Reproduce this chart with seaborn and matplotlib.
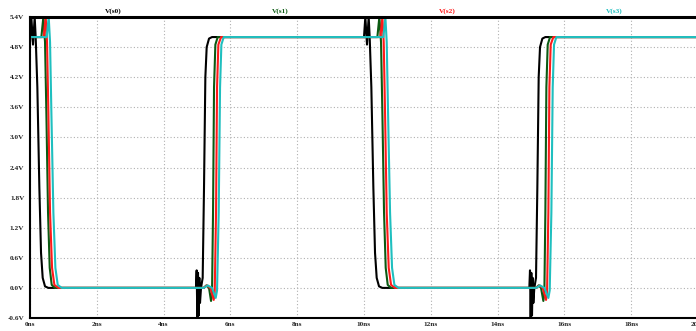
import numpy as np
import pandas as pd
import seaborn as sns
import matplotlib.pyplot as plt

# waveform samples (time in ns, voltage in V)
t_s0 = [0.00, 0.04, 0.09, 0.14, 0.17, 0.22, 0.28, 0.33, 0.38, 0.45, 0.55,
        4.97, 4.99, 5.01, 5.03, 5.05, 5.07, 5.09, 5.12, 5.17, 5.21, 5.25, 5.29, 5.36, 5.45,
        10.00, 10.04, 10.09, 10.14, 10.17, 10.22, 10.28, 10.33, 10.38, 10.45, 10.55,
        14.95, 14.97, 14.99, 15.01, 15.03, 15.05, 15.07, 15.10, 15.15, 15.19, 15.23, 15.27, 15.34, 15.43, 20.00]
v_s0 = [4.9, 5.4, 4.85, 5.4, 5.0, 4.0, 2.0, 0.7, 0.2, 0.03, 0.0,
        0.0, 0.35, -0.6, 0.3, -0.55, 0.2, -0.3, 0.0, 0.2, 2.0, 4.2, 4.8, 4.97, 5.0,
        5.0, 5.4, 4.85, 5.4, 5.0, 4.0, 2.0, 0.7, 0.2, 0.03, 0.0,
        0.0, 0.35, -0.6, 0.3, -0.55, 0.2, -0.3, 0.0, 0.2, 2.0, 4.2, 4.8, 4.97, 5.0, 5.0]

t_s1 = [0.00, 0.34, 0.40, 0.45, 0.49, 0.54, 0.59, 0.65, 0.75,
        5.20, 5.28, 5.36, 5.42, 5.45, 5.48, 5.51, 5.55, 5.62,
        10.00, 10.40, 10.46, 10.51, 10.55, 10.60, 10.65, 10.71, 10.81,
        15.15, 15.23, 15.30, 15.37, 15.40, 15.43, 15.46, 15.50, 15.57, 20.00]
v_s1 = [5.0, 5.0, 5.4, 4.9, 3.5, 1.5, 0.4, 0.06, 0.0,
        0.0, 0.05, 0.0, -0.26, -0.1, 1.5, 4.0, 4.85, 5.0,
        5.0, 5.0, 5.4, 4.9, 3.5, 1.5, 0.4, 0.06, 0.0,
        0.0, 0.05, 0.0, -0.26, -0.1, 1.5, 4.0, 4.85, 5.0, 5.0]

t_s2 = [0.00, 0.41, 0.47, 0.51, 0.55, 0.60, 0.66, 0.73, 0.85,
        5.20, 5.30, 5.40, 5.50, 5.53, 5.57, 5.60, 5.64, 5.72,
        10.00, 10.49, 10.55, 10.59, 10.63, 10.68, 10.74, 10.81, 10.93,
        15.15, 15.25, 15.35, 15.45, 15.48, 15.52, 15.55, 15.59, 15.67, 20.00]
v_s2 = [5.0, 5.0, 5.4, 4.9, 3.5, 1.5, 0.4, 0.06, 0.0,
        0.0, 0.05, 0.0, -0.24, -0.1, 1.5, 4.0, 4.85, 5.0,
        5.0, 5.0, 5.4, 4.9, 3.5, 1.5, 0.4, 0.06, 0.0,
        0.0, 0.05, 0.0, -0.24, -0.1, 1.5, 4.0, 4.85, 5.0, 5.0]

t_s3 = [0.00, 0.50, 0.56, 0.60, 0.64, 0.70, 0.76, 0.83, 0.95,
        5.20, 5.32, 5.45, 5.56, 5.60, 5.65, 5.69, 5.73, 5.80,
        10.00, 10.58, 10.64, 10.68, 10.72, 10.78, 10.84, 10.91, 11.03,
        15.15, 15.27, 15.40, 15.52, 15.56, 15.61, 15.65, 15.69, 15.76, 20.00]
v_s3 = [5.0, 5.0, 5.4, 4.9, 3.5, 1.5, 0.4, 0.06, 0.0,
        0.0, 0.05, 0.0, -0.2, -0.05, 1.5, 4.0, 4.85, 5.0,
        5.0, 5.0, 5.4, 4.9, 3.5, 1.5, 0.4, 0.06, 0.0,
        0.0, 0.05, 0.0, -0.2, -0.05, 1.5, 4.0, 4.85, 5.0, 5.0]

names = ["V(s0)", "V(s1)", "V(s2)", "V(s3)"]
colors = ["#000000", "#0b5a12", "#ff1a1a", "#1fbfbf"]
x_ticks = [0, 2, 4, 6, 8, 10, 12, 14, 16, 18, 20]
y_ticks = [-0.6, 0.0, 0.6, 1.2, 1.8, 2.4, 3.0, 3.6, 4.2, 4.8, 5.4]

frames = []
for name, t, v in zip(names, [t_s0, t_s1, t_s2, t_s3], [v_s0, v_s1, v_s2, v_s3]):
    frames.append(pd.DataFrame({"t": t, "V": v, "signal": name}))
df = pd.concat(frames, ignore_index=True)

sns.set_style("white")
plt.rcParams["font.family"] = ["Liberation Serif", "DejaVu Serif"]

fig = plt.figure(figsize=(6.96, 3.31), dpi=100)
ax = fig.add_axes([30 / 696, 13 / 331, 668 / 696, 301 / 331])

sns.lineplot(data=df, x="t", y="V", hue="signal", palette=colors, hue_order=names,
             estimator=None, sort=False, linewidth=1.5, legend=False, ax=ax)

ax.set_xlim(0, 20)
ax.set_ylim(-0.6, 5.4)
ax.set_xticks(x_ticks)
ax.set_yticks(y_ticks)
ax.set_xticklabels([f"{x}ns" for x in x_ticks], fontsize=5.2, fontweight="bold")
ax.set_yticklabels([f"{y:.1f}V" for y in y_ticks], fontsize=5.2, fontweight="bold")
ax.set_xlabel("")
ax.set_ylabel("")
ax.grid(True, color="#b0b0b0", linestyle=(0, (1, 2)), linewidth=0.8)
ax.tick_params(axis="x", direction="out", length=2.5, width=1.2, color="black", pad=0.5)
ax.tick_params(axis="y", direction="out", length=3, width=1.2, color="black", pad=1)

for side in ["left", "bottom"]:
    ax.spines[side].set_color("black")
    ax.spines[side].set_linewidth(1.5)
ax.spines["top"].set_color("black")
ax.spines["top"].set_linewidth(2.2)
ax.spines["right"].set_visible(False)

label_x = [113, 280, 447, 614]
for name, c, lx in zip(names, colors, label_x):
    fig.text(lx / 696, 1 - 11 / 331, name, color=c, fontsize=5.2, fontweight="bold",
             ha="center", va="center")

fig.savefig("out.png", dpi=100)
